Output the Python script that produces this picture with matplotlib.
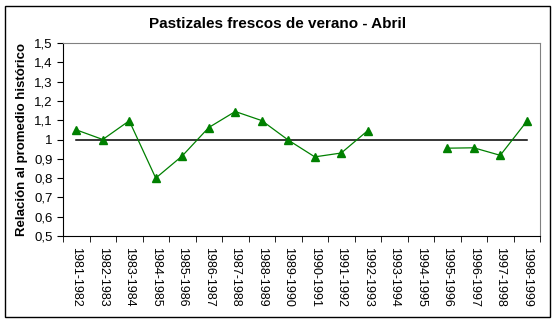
import matplotlib.pyplot as plt
import numpy as np
from matplotlib.patches import Rectangle

plt.rcParams['font.family'] = ['Liberation Sans', 'DejaVu Sans']

# campaigns and ratio to the historical mean (None = no data)
campanas = ['1981-1982', '1982-1983', '1983-1984', '1984-1985', '1985-1986',
            '1986-1987', '1987-1988', '1988-1989', '1989-1990', '1990-1991',
            '1991-1992', '1992-1993', '1993-1994', '1994-1995', '1995-1996',
            '1996-1997', '1997-1998', '1998-1999']
relacion = [1.05, 1.00, 1.097, 0.80, 0.915, 1.062, 1.145, 1.098, 0.997, 0.91,
            0.93, 1.046, None, None, 0.955, 0.957, 0.918, 1.094]
promedio = [1.0] * len(campanas)
yticks = [0.5, 0.6, 0.7, 0.8, 0.9, 1.0, 1.1, 1.2, 1.3, 1.4, 1.5]

fig = plt.figure(figsize=(5.56, 3.22), dpi=100)
ax = fig.add_axes([63 / 556, 1 - 236 / 322, 477 / 556, 193 / 322])

x = np.arange(len(campanas))
y = np.array([np.nan if v is None else v for v in relacion])
ax.plot(x, promedio, color='black', lw=1.1)
ax.plot(x, y, color='#008000', lw=0.9, marker='^', markersize=5.5,
        markerfacecolor='#008000', markeredgecolor='#008000')

ax.set_xlim(-0.5, len(campanas) - 0.5)
ax.set_ylim(0.5, 1.5)
ax.set_yticks(yticks)
ax.set_yticklabels([('%g' % t).replace('.', ',') for t in yticks], fontsize=9.5)
ax.set_xticks(x)
ax.set_xticklabels(campanas, rotation=-90, fontsize=9)
ax.set_xticks(np.arange(len(campanas) + 1) - 0.5, minor=True)
ax.tick_params(axis='x', which='major', length=0, pad=8)
ax.tick_params(axis='x', which='minor', length=4, direction='out')
ax.tick_params(axis='y', length=4, direction='out')

for s in ['top', 'right']:
    ax.spines[s].set_color('#808080')
for s in ['left', 'bottom']:
    ax.spines[s].set_color('black')

ax.set_ylabel('Relación al promedio histórico', fontsize=9.5, fontweight='bold', labelpad=4)
fig.text(0.5, 1 - 24 / 322, 'Pastizales frescos de verano - Abril', ha='center',
         va='center', fontsize=11, fontweight='bold')

fig.patches.append(Rectangle((5 / 556, 5 / 322), 545 / 556, 311 / 322, fill=False,
                             edgecolor='black', lw=1, transform=fig.transFigure))

fig.savefig('out.png', dpi=100)
